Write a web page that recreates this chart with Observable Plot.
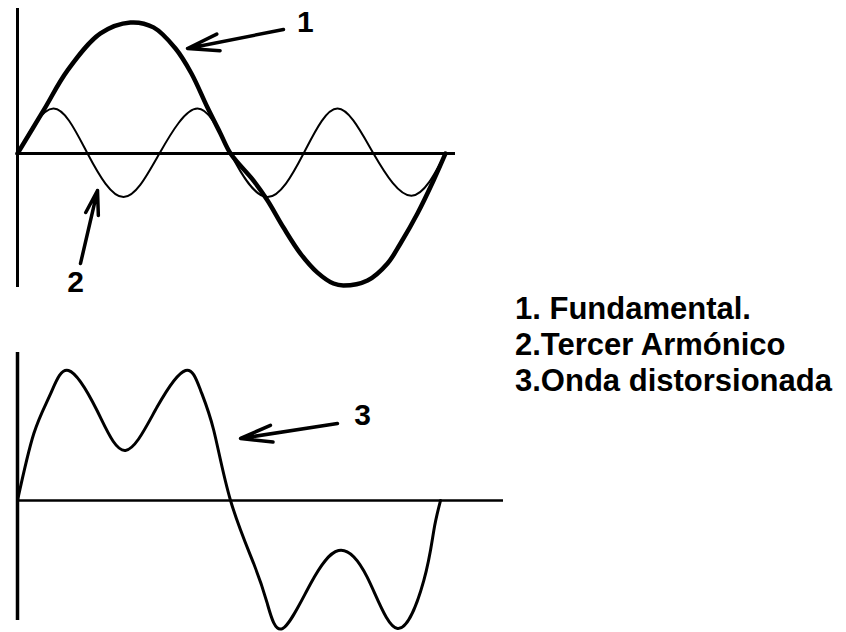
<!DOCTYPE html>
<html>
<head>
<meta charset="utf-8">
<script src="https://cdn.jsdelivr.net/npm/d3@7"></script>
<script src="https://cdn.jsdelivr.net/npm/@observablehq/plot@0.6"></script>
<style>
  html, body { margin: 0; padding: 0; background: #fff; }
  #wrap { position: relative; width: 846px; height: 632px; overflow: hidden; background: #fff; }
  #wrap svg { position: absolute; left: 0; }
  #legend { position: absolute; left: 515px; top: 291px; font-family: "Liberation Sans", Arial, sans-serif;
            font-weight: bold; font-size: 31px; line-height: 36px; color: #000; white-space: nowrap; }
</style>
</head>
<body>
<div id="wrap"></div>
<script>
// Phase in degrees, amplitude relative to the fundamental
const fundPhase = [0, 21.9, 42.1, 69.8, 95.0, 114.4, 132.9, 146.3, 159.8, 170.7, 179.2, 198.5, 210.3, 223.7, 238.0, 252.3, 265.8, 274.2, 294.4, 311.2, 322.1, 336.4, 349.9, 360];
const fundValue = [0, 0.326, 0.629, 0.909, 0.992, 0.955, 0.795, 0.606, 0.348, 0.152, 0, -0.205, -0.356, -0.561, -0.758, -0.902, -0.985, -1.0, -0.962, -0.833, -0.682, -0.455, -0.205, 0];

const harmPhase = [0, 30.3, 58.9, 89.2, 119.4, 151.4, 179.2, 210.3, 240.6, 269.2, 299.4, 331.4, 360];
const harmValue = [0, 0.34, 0, -0.33, 0, 0.34, 0, -0.33, 0, 0.34, 0, -0.32, 0];

const distPhase = [0, 13.9, 28.1, 43.4, 67.8, 91.9, 118.9, 143, 155.7, 167, 181.3, 201, 212.5, 225.5, 249.4, 273.2, 297.6, 323.4, 345.8, 354.3, 360];
const distValue = [0, 0.515, 0.82, 1.0, 0.69, 0.385, 0.72, 1.0, 0.85, 0.54, 0, -0.485, -0.79, -0.985, -0.64, -0.385, -0.59, -0.985, -0.615, -0.23, 0];

const legendLines = ["1. Fundamental.", "2.Tercer Armónico", "3.Onda distorsionada"];

// Annotation labels and arrows (phase, amplitude)
const topLabels = [{t: "1", x: 242, y: 0.99}, {t: "2", x: 48.8, y: -0.977}];
const topArrows = [
  {x1: 223.7, y1: 0.939, x2: 143, y2: 0.795},
  {x1: 53, y1: -0.833, x2: 67.3, y2: -0.28}
];
const botLabels = [{t: "3", x: 293.6, y: 0.654}];
const botArrows = [{x1: 272.3, y1: 0.592, x2: 189.8, y2: 0.477}];

const fund = fundPhase.map((p, i) => ({p, v: fundValue[i]}));
const harm = harmPhase.map((p, i) => ({p, v: harmValue[i]}));
const dist = distPhase.map((p, i) => ({p, v: distValue[i]}));

const font = '"Liberation Sans", Arial, sans-serif';

const topXMax = 368.4, topYMin = -1.015, topYMax = 1.098;
const topPlot = Plot.plot({
  width: 470, height: 300,
  marginLeft: 17, marginRight: 15, marginTop: 8, marginBottom: 13,
  x: {domain: [0, topXMax], axis: null},
  y: {domain: [topYMin, topYMax], axis: null},
  style: {background: "none", fontFamily: font},
  marks: [
    Plot.ruleY([0], {x1: 0, x2: topXMax, stroke: "#000", strokeWidth: 3}),
    Plot.ruleX([0], {y1: topYMin, y2: topYMax, stroke: "#000", strokeWidth: 3}),
    Plot.line(harm, {x: "p", y: "v", curve: "natural", stroke: "#000", strokeWidth: 2}),
    Plot.line(fund, {x: "p", y: "v", curve: "catmull-rom", stroke: "#000", strokeWidth: 4.5}),
    Plot.arrow(topArrows, {x1: "x1", y1: "y1", x2: "x2", y2: "y2", stroke: "#000", strokeWidth: 3.5, headLength: 14, headAngle: 30}),
    Plot.text(topLabels, {x: "x", y: "y", text: "t", fontSize: 30, fontWeight: "bold", fill: "#000", textAnchor: "middle", lineAnchor: "middle"})
  ]
});
topPlot.style.top = "0px";

const botXMax = 413.6, botYMin = -0.923, botYMax = 1.138;
const botPlot = Plot.plot({
  width: 520, height: 302,
  marginLeft: 17, marginRight: 17, marginTop: 22, marginBottom: 12,
  x: {domain: [0, botXMax], axis: null},
  y: {domain: [botYMin, botYMax], axis: null},
  style: {background: "none", fontFamily: font},
  marks: [
    Plot.ruleY([0], {x1: 0, x2: botXMax, stroke: "#000", strokeWidth: 2.5}),
    Plot.ruleX([0], {y1: botYMin, y2: botYMax, stroke: "#000", strokeWidth: 3.5}),
    Plot.line(dist, {x: "p", y: "v", curve: "natural", stroke: "#000", strokeWidth: 3}),
    Plot.arrow(botArrows, {x1: "x1", y1: "y1", x2: "x2", y2: "y2", stroke: "#000", strokeWidth: 3.5, headLength: 14, headAngle: 30}),
    Plot.text(botLabels, {x: "x", y: "y", text: "t", fontSize: 30, fontWeight: "bold", fill: "#000", textAnchor: "middle", lineAnchor: "middle"})
  ]
});
botPlot.style.top = "330px";

const wrap = document.getElementById("wrap");
wrap.appendChild(topPlot);
wrap.appendChild(botPlot);

const legend = document.createElement("div");
legend.id = "legend";
legendLines.forEach(s => {
  const d = document.createElement("div");
  d.textContent = s;
  legend.appendChild(d);
});
wrap.appendChild(legend);
</script>
</body>
</html>
